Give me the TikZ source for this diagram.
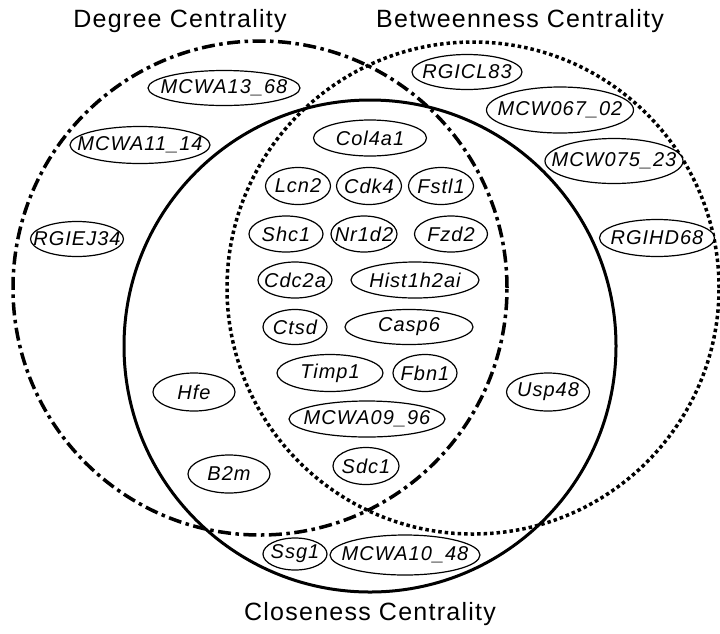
\documentclass[tikz,border=0pt]{standalone}
\usepackage{fontspec}
\setmainfont{Liberation Sans}[LetterSpace=5]
\usetikzlibrary{shapes.geometric}

\begin{document}
\begin{tikzpicture}[
    x=1pt, y=-1pt,
    set/.style={line width=3pt},
    degree/.style={set, line width=3.5pt, dash pattern=on 13pt off 4.5pt on 3.5pt off 4.5pt},
    betweenness/.style={set, line width=3.5pt, dash pattern=on 3.5pt off 3pt},
    closeness/.style={set},
    title/.style={anchor=base, font=\fontsize{25}{30}\selectfont},
    gene/.style={draw, ellipse, fill=white, line width=1.2pt, inner sep=0pt, minimum height=36pt,
        font=\fontsize{20}{24}\selectfont\itshape,
        execute at begin node={\hbox to 0pt\bgroup\hss}, execute at end node={\hss\egroup}}
]
\useasboundingbox (0,0) rectangle (720,633);
% the three centrality sets
\draw[degree] (260,288) circle [radius=247pt];
\draw[betweenness] (473,288) circle [radius=246pt];
\draw[closeness] (370,346) circle [radius=246pt];
\node[title] (degtitle) at (180,27) {Degree Centrality};
\node[title] (bettitle) at (520,27) {Betweenness Centrality};
\node[title] (clotitle) at (370,620) {Closeness Centrality};
% degree only
\node[gene, minimum width=152pt, minimum height=35pt] (mcwa1368) at (224,88) {MCWA13\_68};
\node[gene, minimum width=140pt, minimum height=37pt] (mcwa1114) at (140,145) {MCWA11\_14};
\node[gene, minimum width=93pt, minimum height=35pt] (rgiej34) at (77,239) {RGIEJ34};
% betweenness only
\node[gene, minimum width=110pt, minimum height=35pt] (rgicl83) at (467,72) {RGICL83};
\node[gene, minimum width=147pt, minimum height=46pt] (mcw06702) at (560,110) {MCW067\_02};
\node[gene, minimum width=138pt, minimum height=45pt] (mcw07523) at (614,161) {MCW075\_23};
\node[gene, minimum width=115pt, minimum height=37pt] (rgihd68) at (657,238) {RGIHD68};
% all three
\node[gene, minimum width=113pt] (col4a1) at (370,138) {Col4a1};
\node[gene, minimum width=65pt, minimum height=37pt] (lcn2) at (298,186) {Lcn2};
\node[gene, minimum width=65pt, minimum height=37pt] (cdk4) at (369,186) {Cdk4};
\node[gene, minimum width=65pt, minimum height=37pt] (fstl1) at (441,186) {Fstl1};
\node[gene, minimum width=74pt] (shc1) at (286,234) {Shc1};
\node[gene, minimum width=66pt] (nr1d2) at (364,234) {Nr1d2};
\node[gene, minimum width=73pt] (fzd2) at (451,234) {Fzd2};
\node[gene, minimum width=74pt] (cdc2a) at (295,280) {Cdc2a};
\node[gene, minimum width=128pt] (hist1h2ai) at (415,280) {Hist1h2ai};
\node[gene, minimum width=64pt, minimum height=35pt] (ctsd) at (295,327) {Ctsd};
\node[gene, minimum width=128pt, minimum height=35pt] (casp6) at (409,327) {Casp6};
\node[gene, minimum width=106pt, minimum height=37pt] (timp1) at (330,373) {Timp1};
\node[gene, minimum width=64pt, minimum height=37pt] (fbn1) at (425,373) {Fbn1};
\node[gene, minimum width=156pt] (mcwa0996) at (367,419) {MCWA09\_96};
\node[gene, minimum width=66pt, minimum height=37pt] (sdc1) at (366,466) {Sdc1};
% degree and closeness
\node[gene, minimum width=82pt, minimum height=38pt] (hfe) at (194,392) {Hfe};
\node[gene, minimum width=82pt, minimum height=38pt] (b2m) at (229,474) {B2m};
% betweenness and closeness
\node[gene, minimum width=83pt, minimum height=38pt] (usp48) at (548,392) {Usp48};
% closeness only
\node[gene, minimum width=64pt, minimum height=32pt] (ssg1) at (295,554) {Ssg1};
\node[gene, minimum width=150pt, minimum height=40pt] (mcwa1048) at (405,555) {MCWA10\_48};
\end{tikzpicture}
\end{document}
